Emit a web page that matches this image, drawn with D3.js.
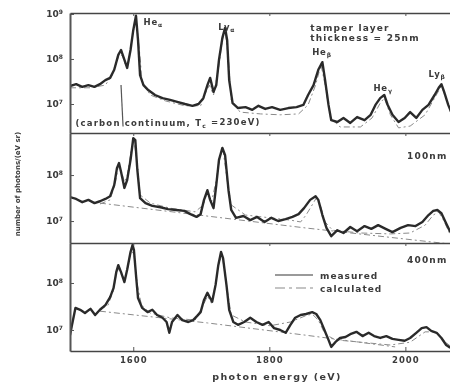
<!DOCTYPE html>
<html>
<head>
<meta charset="utf-8">
<script src="https://cdn.jsdelivr.net/npm/d3@7"></script>
<style>
  html, body { margin: 0; padding: 0; background: #fff; }
  svg text { font-family: "DejaVu Sans", sans-serif; font-weight: bold; fill: #3a3a3a; }
</style>
</head>
<body>
<div id="chart"></div>
<script>
// photon energy (eV) ticks
const energyTicks = [1600, 1800, 2000];

// tamper layer thickness per panel
const panelNames = ["25nm", "100nm", "400nm"];

// each point: [photon energy (eV), log10 photons/(eV sr)]
const measured25 = [[1507,7.40],[1516,7.44],[1525,7.38],[1534,7.42],[1543,7.38],[1551,7.44],[1559,7.53],[1566,7.58],[1572,7.76],[1578,8.09],[1582,8.20],[1587,7.98],[1591,7.80],[1596,8.20],[1600,8.64],[1604,8.96],[1607,8.42],[1610,7.64],[1615,7.42],[1622,7.31],[1632,7.20],[1643,7.13],[1654,7.09],[1666,7.04],[1676,7.00],[1687,6.96],[1696,7.00],[1703,7.13],[1709,7.42],[1713,7.58],[1718,7.27],[1722,7.42],[1726,7.98],[1731,8.47],[1735,8.69],[1738,8.42],[1741,7.53],[1746,7.02],[1754,6.91],[1765,6.93],[1775,6.87],[1784,6.96],[1794,6.89],[1804,6.93],[1816,6.87],[1828,6.91],[1840,6.93],[1850,6.98],[1857,7.20],[1865,7.42],[1872,7.76],[1878,7.93],[1882,7.53],[1887,6.98],[1891,6.64],[1900,6.60],[1909,6.69],[1919,6.58],[1929,6.71],[1940,6.64],[1949,6.76],[1956,6.98],[1963,7.13],[1969,7.20],[1974,6.98],[1981,6.76],[1990,6.60],[1999,6.69],[2007,6.82],[2016,6.69],[2025,6.87],[2034,6.98],[2043,7.20],[2049,7.36],[2053,7.44],[2057,7.27],[2063,6.98],[2069,6.76]];
const calculated25 = [[1507,7.36],[1537,7.36],[1559,7.42],[1569,7.64],[1578,8.04],[1584,8.09],[1588,7.89],[1593,7.93],[1599,8.53],[1604,8.91],[1609,8.20],[1613,7.49],[1625,7.20],[1647,7.07],[1676,6.96],[1699,6.96],[1707,7.27],[1712,7.42],[1718,7.20],[1725,7.76],[1731,8.42],[1735,8.64],[1740,7.98],[1744,7.09],[1757,6.82],[1787,6.78],[1816,6.76],[1843,6.78],[1857,6.98],[1868,7.42],[1876,7.87],[1882,7.42],[1890,6.69],[1904,6.49],[1934,6.49],[1951,6.69],[1963,7.02],[1969,7.13],[1978,6.76],[1990,6.47],[2007,6.51],[2029,6.76],[2044,7.16],[2053,7.40],[2060,7.13],[2069,6.69]];

const measured100 = [[1507,7.52],[1516,7.48],[1525,7.41],[1534,7.46],[1543,7.39],[1551,7.43],[1559,7.48],[1566,7.54],[1572,7.78],[1576,8.15],[1579,8.26],[1582,8.07],[1587,7.72],[1591,7.89],[1596,8.33],[1600,8.80],[1603,8.76],[1606,8.11],[1610,7.50],[1618,7.39],[1628,7.33],[1640,7.30],[1651,7.26],[1663,7.24],[1675,7.22],[1684,7.15],[1693,7.09],[1699,7.15],[1704,7.46],[1709,7.67],[1713,7.46],[1718,7.28],[1722,7.78],[1726,8.33],[1731,8.59],[1735,8.43],[1740,7.67],[1744,7.24],[1751,7.07],[1762,7.11],[1772,7.02],[1782,7.09],[1793,6.98],[1803,7.07],[1813,7.00],[1824,7.04],[1834,7.09],[1843,7.15],[1851,7.28],[1860,7.46],[1868,7.54],[1872,7.46],[1878,7.13],[1884,6.85],[1891,6.67],[1900,6.80],[1909,6.74],[1919,6.87],[1929,6.78],[1940,6.89],[1950,6.83],[1960,6.91],[1971,6.83],[1981,6.76],[1993,6.85],[2004,6.91],[2015,6.89],[2025,6.98],[2034,7.13],[2041,7.22],[2047,7.24],[2053,7.17],[2059,6.98],[2066,6.76]];
const calculated100 = [[1551,7.37],[1566,7.46],[1574,7.85],[1578,8.20],[1582,8.11],[1587,7.85],[1591,7.98],[1597,8.54],[1601,8.76],[1606,8.22],[1610,7.57],[1625,7.39],[1654,7.28],[1691,7.20],[1703,7.35],[1709,7.63],[1715,7.41],[1722,7.89],[1728,8.43],[1732,8.54],[1738,7.89],[1744,7.35],[1765,7.13],[1801,7.07],[1831,7.02],[1846,6.98],[1854,7.13],[1863,7.35],[1869,7.50],[1875,7.35],[1882,6.98],[1893,6.80],[1934,6.74],[1978,6.72],[2007,6.74],[2029,6.91],[2041,7.13],[2049,7.20],[2056,7.02],[2066,6.70]];
const continuum100 = [[1551,7.39],[1853,6.85],[2066,6.50]];

const measured400 = [[1507,6.89],[1510,7.11],[1515,7.47],[1522,7.43],[1529,7.36],[1537,7.45],[1544,7.32],[1551,7.43],[1559,7.53],[1566,7.70],[1571,7.89],[1575,8.23],[1578,8.38],[1582,8.23],[1587,8.02],[1591,8.28],[1596,8.66],[1599,8.81],[1601,8.70],[1604,8.17],[1607,7.68],[1613,7.47],[1621,7.38],[1628,7.43],[1635,7.32],[1643,7.26],[1649,7.17],[1653,6.94],[1657,7.17],[1665,7.32],[1672,7.21],[1681,7.17],[1688,7.21],[1694,7.30],[1699,7.38],[1704,7.64],[1709,7.79],[1713,7.68],[1716,7.60],[1721,7.96],[1725,8.38],[1729,8.66],[1732,8.53],[1737,7.96],[1741,7.43],[1747,7.17],[1754,7.11],[1763,7.17],[1772,7.26],[1781,7.17],[1790,7.11],[1799,7.17],[1807,7.04],[1816,7.00],[1824,6.94],[1831,7.11],[1838,7.26],[1846,7.32],[1854,7.34],[1863,7.38],[1869,7.34],[1875,7.21],[1881,7.00],[1887,6.79],[1891,6.64],[1897,6.74],[1904,6.83],[1912,6.85],[1919,6.91],[1928,6.96],[1937,6.87],[1946,6.94],[1954,6.87],[1963,6.83],[1972,6.87],[1981,6.81],[1990,6.79],[1999,6.77],[2007,6.83],[2016,6.94],[2024,7.04],[2031,7.06],[2038,6.98],[2046,6.94],[2053,6.83],[2060,6.68],[2066,6.62]];
const calculated400 = [[1551,7.43],[1563,7.53],[1571,7.85],[1576,8.28],[1581,8.28],[1587,8.06],[1593,8.38],[1597,8.70],[1601,8.60],[1606,7.96],[1612,7.53],[1625,7.36],[1654,7.26],[1691,7.21],[1703,7.53],[1709,7.72],[1715,7.57],[1721,7.96],[1726,8.45],[1731,8.57],[1737,7.96],[1744,7.32],[1765,7.17],[1801,7.09],[1831,7.17],[1853,7.30],[1863,7.34],[1872,7.21],[1882,6.91],[1897,6.79],[1934,6.74],[1978,6.68],[2007,6.74],[2029,6.96],[2044,6.96],[2059,6.74],[2066,6.66]];
const continuum400 = [[1551,7.40],[1709,7.15],[1853,6.89],[1985,6.64]];

// y tick exponents per panel
const decadeTicks = [[7, 8, 9], [7, 8], [7, 8]];

document.addEventListener('DOMContentLoaded', function () {
    const width = 450, height = 384;
    const plotLeft = 70, plotRight = 470;
    const panelTops = [13, 133, 243];
    const panelBottoms = [133, 243, 351];
    // visible photon ranges of each panel
    const yDomains = [[2.27e6, 1.05e9], [3.33e6, 8.2e8], [3.57e6, 7.1e8]];

    const svg = d3.select("#chart").append("svg")
        .attr("width", width)
        .attr("height", height);

    const defs = svg.append("defs");
    defs.append("filter").attr("id", "scan")
        .append("feGaussianBlur").attr("stdDeviation", 0.45);

    const root = svg.append("g").attr("filter", "url(#scan)");

    const x = d3.scaleLinear().domain([1507, 2095]).range([plotLeft, plotRight]);

    const series = [
        { measured: measured25, calculated: calculated25, continuum: null },
        { measured: measured100, calculated: calculated100, continuum: continuum100 },
        { measured: measured400, calculated: calculated400, continuum: continuum400 }
    ];

    const yScales = [];

    series.forEach((s, i) => {
        const y = d3.scaleLog().domain(yDomains[i]).range([panelBottoms[i], panelTops[i]]);
        yScales.push(y);

        defs.append("clipPath").attr("id", "clip" + i)
            .append("rect")
            .attr("x", plotLeft).attr("y", panelTops[i])
            .attr("width", plotRight - plotLeft)
            .attr("height", panelBottoms[i] - panelTops[i]);

        const line = d3.line()
            .x(d => x(d[0]))
            .y(d => y(Math.pow(10, d[1])));

        const g = root.append("g").attr("clip-path", `url(#clip${i})`);

        if (s.continuum) {
            g.append("path")
                .datum(s.continuum)
                .attr("d", line)
                .attr("fill", "none")
                .attr("stroke", "#8a8a8a")
                .attr("stroke-width", 1)
                .attr("stroke-dasharray", "6,3,2,3");
        }

        g.append("path")
            .datum(s.calculated)
            .attr("d", line)
            .attr("fill", "none")
            .attr("stroke", "#8a8a8a")
            .attr("stroke-width", 1)
            .attr("stroke-dasharray", "6,3,2,3");

        g.append("path")
            .datum(s.measured)
            .attr("d", line)
            .attr("fill", "none")
            .attr("stroke", "#2b2b2b")
            .attr("stroke-width", 2.4)
            .attr("stroke-linejoin", "round");

        // left axis with decade labels
        const yAxis = d3.axisLeft(y)
            .tickValues(decadeTicks[i].map(p => Math.pow(10, p)))
            .tickSize(-4)
            .tickSizeOuter(0)
            .tickPadding(7)
            .tickFormat(() => "");

        const ya = root.append("g")
            .attr("transform", `translate(${plotLeft},0)`)
            .call(yAxis);
        ya.select(".domain").attr("stroke", "#555").attr("stroke-width", 2);
        ya.selectAll(".tick line").attr("stroke", "#555");
        ya.selectAll(".tick text").each(function (d) {
            const t = d3.select(this)
                .attr("font-size", 9)
                .attr("font-family", null);
            t.append("tspan").text("10");
            t.append("tspan")
                .attr("font-size", 6)
                .attr("dy", "-0.5em")
                .text(Math.round(Math.log10(d)));
        });

        // top edge of the panel
        const topAxis = d3.axisBottom(x)
            .tickValues(energyTicks)
            .tickSize(3)
            .tickSizeOuter(0)
            .tickFormat("");
        const ta = root.append("g")
            .attr("transform", `translate(0,${panelTops[i]})`)
            .call(topAxis);
        ta.select(".domain").attr("stroke", "#444").attr("stroke-width", 1.6);
        ta.selectAll(".tick line").attr("stroke", "#555");
    });

    // bottom energy axis
    const xAxis = d3.axisBottom(x)
        .tickValues(energyTicks)
        .tickSize(-4)
        .tickSizeOuter(0)
        .tickPadding(6)
        .tickFormat(d3.format("d"));
    const xa = root.append("g")
        .attr("transform", `translate(0,${panelBottoms[2]})`)
        .call(xAxis);
    xa.select(".domain").attr("stroke", "#444").attr("stroke-width", 1.6);
    xa.selectAll(".tick line").attr("stroke", "#555");
    xa.selectAll(".tick text")
        .attr("font-family", null)
        .attr("font-size", 8.5)
        .attr("letter-spacing", 1)
        .attr("fill", "#3a3a3a");

    root.append("text")
        .attr("x", 277).attr("y", 380)
        .attr("text-anchor", "middle")
        .attr("font-size", 9.5)
        .attr("letter-spacing", 1.4)
        .text("photon energy  (eV)");

    root.append("text")
        .attr("transform", "translate(20,184) rotate(-90)")
        .attr("text-anchor", "middle")
        .attr("font-size", 7)
        .attr("letter-spacing", 0)
        .text("number of photons/(eV sr)");

    // line identifications in the top panel
    const lineLabels = [
        { name: "He", sub: "α", e: 1615, v: 8.76 },
        { name: "Ly", sub: "α", e: 1725, v: 8.64 },
        { name: "He", sub: "β", e: 1863, v: 8.09 },
        { name: "He", sub: "γ", e: 1953, v: 7.29 },
        { name: "Ly", sub: "β", e: 2034, v: 7.60 }
    ];
    lineLabels.forEach(l => {
        const t = root.append("text")
            .attr("x", x(l.e))
            .attr("y", yScales[0](Math.pow(10, l.v)))
            .attr("font-size", 8.5)
            .attr("letter-spacing", 0.8);
        t.append("tspan").text(l.name);
        t.append("tspan").attr("font-size", 6).attr("dy", "0.3em").text(l.sub);
    });

    const y0 = yScales[0];
    root.append("text")
        .attr("x", x(1860)).attr("y", y0(Math.pow(10, 8.62)))
        .attr("font-size", 9).attr("letter-spacing", 1.2)
        .text("tamper layer");
    root.append("text")
        .attr("x", x(1860)).attr("y", y0(Math.pow(10, 8.40)))
        .attr("font-size", 9).attr("letter-spacing", 1.2)
        .text("thickness = " + panelNames[0]);

    // carbon continuum note
    const note = root.append("text")
        .attr("x", x(1515)).attr("y", y0(Math.pow(10, 6.51)))
        .attr("font-size", 8.5).attr("letter-spacing", 1.2);
    note.append("tspan").text("(carbon continuum, T");
    note.append("tspan").attr("font-size", 6).attr("dy", "0.3em").text("c");
    note.append("tspan").attr("dy", "-0.3em").text(" =230eV)");

    root.append("line")
        .attr("x1", x(1582)).attr("y1", y0(Math.pow(10, 7.42)))
        .attr("x2", x(1585)).attr("y2", y0(Math.pow(10, 6.50)))
        .attr("stroke", "#555").attr("stroke-width", 1.2);

    root.append("text")
        .attr("x", x(2062)).attr("y", yScales[1](Math.pow(10, 8.35)))
        .attr("text-anchor", "end")
        .attr("font-size", 9).attr("letter-spacing", 1.2)
        .text(panelNames[1]);
    root.append("text")
        .attr("x", x(2062)).attr("y", yScales[2](Math.pow(10, 8.43)))
        .attr("text-anchor", "end")
        .attr("font-size", 9).attr("letter-spacing", 1.2)
        .text(panelNames[2]);

    // legend
    const legend = root.append("g").attr("transform", "translate(275,275)");
    legend.append("line")
        .attr("x1", 0).attr("x2", 38).attr("y1", 0).attr("y2", 0)
        .attr("stroke", "#9a9a9a").attr("stroke-width", 2.2);
    legend.append("text")
        .attr("x", 45).attr("y", 3.5)
        .attr("font-size", 9).attr("letter-spacing", 1)
        .text("measured");
    legend.append("line")
        .attr("x1", 0).attr("x2", 38).attr("y1", 13).attr("y2", 13)
        .attr("stroke", "#8a8a8a").attr("stroke-width", 1.2)
        .attr("stroke-dasharray", "10,4,3,4");
    legend.append("text")
        .attr("x", 45).attr("y", 16.5)
        .attr("font-size", 9).attr("letter-spacing", 1)
        .text("calculated");
});
</script>
</body>
</html>
